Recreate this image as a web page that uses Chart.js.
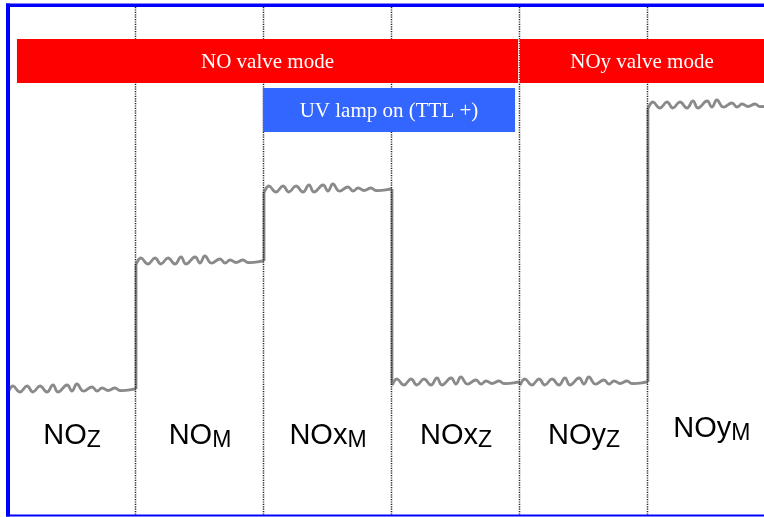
<!DOCTYPE html>
<html>
<head>
<meta charset="utf-8">
<script src="https://cdn.jsdelivr.net/npm/chart.js@4/dist/chart.umd.min.js"></script>
<style>
  body { margin: 0; background: #fff; }
  canvas { display: block; }
</style>
</head>
<body>
<canvas id="stepChart" width="764" height="517"></canvas>
<script>
// sample times inside each 60 s mode (s)
var sampleTimes = [0, 2.3, 5.6, 8.9, 11.7, 15.0, 18.3, 21.1, 23.4, 27.7, 30.0, 32.3, 35.2, 39.4, 41.7, 44.1, 46.9, 50.2, 52.5, 60];
var modeStarts = [0, 60, 120, 180, 240, 300];
var modeLabels = [['NO', 'Z'], ['NO', 'M'], ['NOx', 'M'], ['NOx', 'Z'], ['NOy', 'Z'], ['NOy', 'M']];

// signal per mode (arb. units)
var sigNOz  = [25.0, 26.2, 25.0, 26.2, 25.0, 26.2, 25.0, 26.4, 25.0, 26.4, 25.2, 26.6, 25.2, 26.0, 25.2, 25.8, 25.3, 25.8, 25.3, 25.6];
var sigNOm  = [50.6, 51.8, 50.6, 51.8, 50.6, 51.8, 50.6, 52.0, 50.6, 52.0, 50.8, 52.2, 50.8, 51.6, 50.8, 51.4, 50.9, 51.4, 50.9, 51.2];
var sigNOxm = [65.0, 66.2, 65.0, 66.2, 65.0, 66.2, 65.0, 66.4, 65.0, 66.4, 65.2, 66.6, 65.2, 66.0, 65.2, 65.8, 65.3, 65.8, 65.3, 65.6];
var sigNOxz = [26.4, 27.6, 26.4, 27.6, 26.4, 27.6, 26.4, 27.8, 26.4, 27.8, 26.6, 28.0, 26.6, 27.4, 26.6, 27.2, 26.7, 27.2, 26.7, 27.0];
var sigNOyz = [26.4, 27.6, 26.4, 27.6, 26.4, 27.6, 26.4, 27.8, 26.4, 27.8, 26.6, 28.0, 26.6, 27.4, 26.6, 27.2, 26.7, 27.2, 26.7, 27.0];
var sigNOym = [81.8, 83.0, 81.8, 83.0, 81.8, 83.0, 81.8, 83.2, 81.8, 83.2, 82.0, 83.4, 82.0, 82.8, 82.0, 82.6, 82.1, 82.6, 82.1, 82.4];
var signals = [sigNOz, sigNOm, sigNOxm, sigNOxz, sigNOyz, sigNOym];

// mode bands (time range, signal range)
var bandText   = ['NO valve mode', 'NOy valve mode', 'UV lamp on (TTL +)'];
var bandStart  = [4.2, 240, 119.5];
var bandEnd    = [239.1, 360, 237.7];
var bandTop    = [95.6, 95.6, 85.8];
var bandBottom = [86.8, 86.8, 77.0];
var bandColor  = ['#ff0000', '#ff0000', '#3366ff'];

var GRAY = '#8a8a8a';

document.addEventListener('DOMContentLoaded', function () {
    var ctx = document.getElementById('stepChart').getContext('2d');

    var datasets = [];
    var jumps = [];
    for (var i = 0; i < signals.length; i++) {
        var pts = [];
        for (var j = 0; j < sampleTimes.length; j++) {
            pts.push({ x: modeStarts[i] + sampleTimes[j], y: signals[i][j] });
        }
        datasets.push({
            data: pts,
            borderColor: GRAY,
            borderWidth: 2.8,
            pointRadius: 0,
            tension: 0.45,
            fill: false
        });
        // vertical jump between modes
        if (i > 0) {
            var prev = signals[i - 1];
            jumps.push({ x: modeStarts[i], y: prev[prev.length - 1] });
            jumps.push({ x: modeStarts[i], y: signals[i][0] });
            jumps.push({ x: modeStarts[i], y: null });
        }
    }
    datasets.push({
        data: jumps,
        borderColor: GRAY,
        borderWidth: 2.8,
        pointRadius: 0,
        tension: 0,
        spanGaps: false
    });

    var overlay = {
        id: 'overlay',
        afterDatasetsDraw: function (chart) {
            var c = chart.ctx;
            var xs = chart.scales.x, ys = chart.scales.y;
            c.save();

            // dotted mode boundaries
            c.strokeStyle = '#222';
            c.lineWidth = 1.5;
            c.setLineDash([1.2, 1.2]);
            for (var i = 1; i < modeStarts.length; i++) {
                var px = Math.round(xs.getPixelForValue(modeStarts[i])) - 0.5;
                c.beginPath();
                c.moveTo(px, 7);
                c.lineTo(px, 515);
                c.stroke();
            }
            c.setLineDash([]);

            // bands
            c.textAlign = 'center';
            c.textBaseline = 'middle';
            c.font = '21px "Liberation Serif", "Times New Roman", serif';
            for (var b = 0; b < bandText.length; b++) {
                var x0 = xs.getPixelForValue(bandStart[b]);
                var x1 = Math.min(xs.getPixelForValue(bandEnd[b]), chart.width);
                var y0 = ys.getPixelForValue(bandTop[b]);
                var y1 = ys.getPixelForValue(bandBottom[b]);
                c.fillStyle = bandColor[b];
                c.fillRect(x0, y0, x1 - x0, y1 - y0);
                c.fillStyle = '#fff';
                c.fillText(bandText[b], (x0 + x1) / 2, (y0 + y1) / 2 + 1);
            }

            // mode labels with subscripts
            c.fillStyle = '#000';
            c.textAlign = 'left';
            c.textBaseline = 'alphabetic';
            var mainFont = '29px "Liberation Sans", Arial, sans-serif';
            var subFont = '23px "Liberation Sans", Arial, sans-serif';
            for (var k = 0; k < modeLabels.length; k++) {
                var cx = xs.getPixelForValue(modeStarts[k] + 30);
                var base = k === 5 ? 437 : 444;
                c.font = mainFont;
                var w1 = c.measureText(modeLabels[k][0]).width;
                c.font = subFont;
                var w2 = c.measureText(modeLabels[k][1]).width;
                var left = cx - (w1 + w2) / 2;
                c.font = mainFont;
                c.fillText(modeLabels[k][0], left, base);
                c.font = subFont;
                c.fillText(modeLabels[k][1], left + w1, base + 3);
            }

            // blue frame
            c.fillStyle = '#0000ff';
            c.fillRect(6, 3.5, chart.width - 6, 3.5);
            c.fillRect(6, 3.5, 4, 513);
            c.fillRect(6, 514.5, chart.width - 6, 2);
            c.restore();
        }
    };

    new Chart(ctx, {
        type: 'line',
        data: { datasets: datasets },
        options: {
            responsive: false,
            animation: false,
            layout: { padding: { left: 8, right: 0, top: 0, bottom: 0 } },
            plugins: { legend: { display: false }, tooltip: { enabled: false } },
            scales: {
                x: { type: 'linear', min: 0, max: 354.4, display: false },
                y: { min: 0, max: 103.4, display: false }
            }
        },
        plugins: [overlay]
    });
});
</script>
</body>
</html>
